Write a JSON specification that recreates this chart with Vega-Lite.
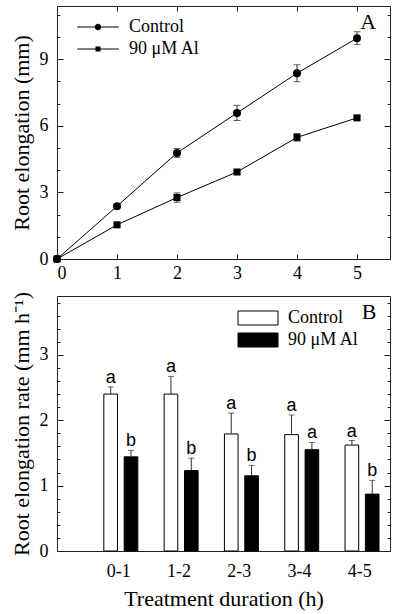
{
  "$schema": "https://vega.github.io/schema/vega-lite/v6.json",
  "padding": {"left": 9, "top": 5, "right": 8, "bottom": 2},
  "config": {
    "font": "Liberation Serif",
    "view": {"stroke": "#222", "strokeWidth": 1},
    "axis": {
      "domain": false, "grid": false, "tickColor": "#222", "tickWidth": 1,
      "labelFont": "Liberation Serif", "labelFontSize": 18, "labelColor": "black",
      "titleFont": "Liberation Serif", "titleFontSize": 22, "titleFontWeight": "normal", "titleColor": "black", "titlePadding": 6
    },
    "legend": {"labelFont": "Liberation Serif", "labelFontSize": 18, "labelColor": "black"}
  },
  "datasets": {
    "growth": [
      {"t": 0, "group": "Control", "mean": 0, "err": 0},
      {"t": 1, "group": "Control", "mean": 2.38, "err": 0.08},
      {"t": 2, "group": "Control", "mean": 4.78, "err": 0.2},
      {"t": 3, "group": "Control", "mean": 6.58, "err": 0.34},
      {"t": 4, "group": "Control", "mean": 8.37, "err": 0.38},
      {"t": 5, "group": "Control", "mean": 9.95, "err": 0.29},
      {"t": 0, "group": "90 μM Al", "mean": 0, "err": 0},
      {"t": 1, "group": "90 μM Al", "mean": 1.54, "err": 0.06},
      {"t": 2, "group": "90 μM Al", "mean": 2.77, "err": 0.21},
      {"t": 3, "group": "90 μM Al", "mean": 3.92, "err": 0.07},
      {"t": 4, "group": "90 μM Al", "mean": 5.48, "err": 0.17},
      {"t": 5, "group": "90 μM Al", "mean": 6.36, "err": 0.07}
    ],
    "rates": [
      {"period": "0-1", "group": "Control", "rate": 2.40, "hi": 2.51, "letter": "a"},
      {"period": "1-2", "group": "Control", "rate": 2.40, "hi": 2.67, "letter": "a"},
      {"period": "2-3", "group": "Control", "rate": 1.79, "hi": 2.11, "letter": "a"},
      {"period": "3-4", "group": "Control", "rate": 1.78, "hi": 2.08, "letter": "a"},
      {"period": "4-5", "group": "Control", "rate": 1.62, "hi": 1.69, "letter": "a"},
      {"period": "0-1", "group": "90 μM Al", "rate": 1.44, "hi": 1.54, "letter": "b"},
      {"period": "1-2", "group": "90 μM Al", "rate": 1.23, "hi": 1.42, "letter": "b"},
      {"period": "2-3", "group": "90 μM Al", "rate": 1.15, "hi": 1.31, "letter": "b"},
      {"period": "3-4", "group": "90 μM Al", "rate": 1.55, "hi": 1.66, "letter": "a"},
      {"period": "4-5", "group": "90 μM Al", "rate": 0.87, "hi": 1.08, "letter": "b"}
    ],
    "panelA": [{"label": "A"}],
    "panelB": [{"label": "B"}]
  },
  "resolve": {
    "scale": {"shape": "independent", "size": "independent", "fill": "independent", "xOffset": "independent"},
    "legend": {"shape": "independent", "fill": "independent", "size": "independent"}
  },
  "vconcat": [
    {
      "width": 333, "height": 253,
      "data": {"name": "growth"},
      "layer": [
        {
          "mark": {"type": "errorbar", "ticks": true, "size": 7, "thickness": 1, "color": "#222"},
          "encoding": {
            "x": {"field": "t", "type": "quantitative", "scale": {"domain": [0, 5.55], "nice": false, "zero": false}, "axis": null},
            "y": {"field": "mean", "type": "quantitative", "scale": {"domain": [0, 11.4], "nice": false}, "axis": null},
            "yError": {"field": "err"}
          }
        },
        {
          "mark": {"type": "line", "color": "black", "strokeWidth": 1},
          "encoding": {
            "x": {"field": "t", "type": "quantitative", "scale": {"domain": [0, 5.55], "nice": false, "zero": false},
                  "axis": {"values": [0, 1, 2, 3, 4, 5], "tickSize": -5, "labelPadding": 10, "title": null}},
            "y": {"field": "mean", "type": "quantitative", "scale": {"domain": [0, 11.4], "nice": false},
                  "axis": {"values": [0, 1, 2, 3, 4, 5, 6, 7, 8, 9, 10, 11], "labelExpr": "datum.value % 3 === 0 ? datum.label : ''",
                           "tickSize": {"condition": {"test": "datum.value % 3 === 0", "value": -6}, "value": -3},
                           "labelPadding": 15, "title": "Root elongation (mm)"}},
            "detail": {"field": "group"}
          }
        },
        {
          "mark": {"type": "point", "filled": true, "color": "black", "opacity": 1},
          "encoding": {
            "x": {"field": "t", "type": "quantitative", "scale": {"domain": [0, 5.55], "nice": false, "zero": false}, "axis": null},
            "y": {"field": "mean", "type": "quantitative", "scale": {"domain": [0, 11.4], "nice": false}, "axis": null},
            "shape": {"field": "group", "type": "nominal", "scale": {"domain": ["Control", "90 μM Al"], "range": ["circle", "square"]}, "legend": null},
            "size": {"field": "group", "type": "nominal", "scale": {"domain": ["Control", "90 μM Al"], "range": [64, 50]}, "legend": null}
          }
        },
        {
          "transform": [{"filter": "false"}],
          "mark": {"type": "point", "filled": true, "color": "black", "size": 25},
          "encoding": {
            "x": {"field": "t", "type": "quantitative", "scale": {"domain": [0, 5.55], "nice": false, "zero": false}, "axis": null},
            "y": {"field": "mean", "type": "quantitative", "scale": {"domain": [0, 11.4], "nice": false}, "axis": null},
            "shape": {"field": "group", "type": "nominal",
                      "scale": {"domain": ["Control", "90 μM Al"],
                                "range": ["M-8.3,-0.18H8.3V0.18H-8.3Z M-1.28,0A1.28,1.28 0 1,1 1.28,0A1.28,1.28 0 1,1 -1.28,0Z", "M-8.3,-0.18H8.3V0.18H-8.3Z M-1,-1H1V1H-1Z"]},
                      "legend": {"orient": "none", "legendX": 32, "legendY": 12, "title": null, "padding": 0, "symbolSize": 25, "labelOffset": 22, "rowPadding": 4,
                                 "labelFont": "Liberation Serif", "labelFontSize": 18,
                                 "symbolOpacity": 1, "symbolFillColor": "black", "symbolStrokeWidth": 0}}
          }
        },
        {
          "data": {"name": "panelA"},
          "mark": {"type": "text", "align": "right", "baseline": "alphabetic", "font": "Liberation Serif", "fontSize": 22, "fontWeight": "normal", "color": "black"},
          "encoding": {
            "x": {"datum": 5.32, "type": "quantitative", "axis": null},
            "y": {"datum": 10.36, "type": "quantitative", "axis": null},
            "text": {"field": "label"}
          }
        },
        {
          "mark": {"type": "point", "opacity": 0},
          "encoding": {
            "x": {"field": "t", "type": "quantitative", "scale": {"domain": [0, 5.55], "nice": false, "zero": false},
                  "axis": {"orient": "top", "values": [0, 1, 2, 3, 4, 5], "tickSize": -5, "labels": false, "title": null}},
            "y": {"field": "mean", "type": "quantitative", "scale": {"domain": [0, 11.4], "nice": false},
                  "axis": {"orient": "right", "values": [0, 1, 2, 3, 4, 5, 6, 7, 8, 9, 10, 11], "labels": false,
                           "tickSize": {"condition": {"test": "datum.value % 3 === 0", "value": -6}, "value": -3}, "title": null}}
          }
        }
      ],
      "resolve": {"axis": {"x": "independent", "y": "independent"}, "scale": {"shape": "independent"}, "legend": {"shape": "independent"}}
    },
    {
      "width": 333, "height": 255,
      "data": {"name": "rates"},
      "layer": [
        {
          "mark": {"type": "bar", "stroke": "black", "strokeWidth": 1},
          "encoding": {
            "x": {"field": "period", "type": "nominal", "scale": {"domain": ["0-1", "1-2", "2-3", "3-4", "4-5"], "paddingInner": 0, "paddingOuter": 0.261, "align": 1},
                  "axis": {"ticks": false, "labelAngle": 0, "labelPadding": 11, "title": "Treatment duration (h)", "titlePadding": 8}},
            "xOffset": {"field": "group", "type": "nominal", "scale": {"domain": ["Control", "90 μM Al"], "paddingInner": 0.33, "paddingOuter": 0.647, "align": 0.583}},
            "y": {"field": "rate", "type": "quantitative", "scale": {"domain": [0, 3.9], "nice": false},
                  "axis": {"values": [0, 0.2, 0.4, 0.6, 0.8, 1, 1.2, 1.4, 1.6, 1.8, 2, 2.2, 2.4, 2.6, 2.8, 3, 3.2, 3.4, 3.6, 3.8],
                           "labelExpr": "datum.value % 1 === 0 ? '' + datum.value : ''", "labelOverlap": false,
                           "tickSize": {"condition": {"test": "datum.value % 1 === 0", "value": -6}, "value": -3},
                           "labelPadding": 15, "title": "Root elongation rate (mm h⁻¹)"}},
            "fill": {"field": "group", "type": "nominal", "scale": {"domain": ["Control", "90 μM Al"], "range": ["white", "black"]},
                     "legend": {"orient": "none", "legendX": 192, "legendY": 13, "title": null, "padding": 0, "symbolSize": 25, "labelOffset": 21, "rowPadding": 4,
                                "labelFont": "Liberation Serif", "labelFontSize": 18,
                                "symbolType": "M-8,-2.8H8V2.8H-8Z", "symbolStrokeColor": "black", "symbolStrokeWidth": 1}}
          }
        },
        {
          "mark": {"type": "rule", "color": "#333", "strokeWidth": 1},
          "encoding": {
            "x": {"field": "period", "type": "nominal", "axis": null},
            "xOffset": {"field": "group", "type": "nominal"},
            "y": {"field": "rate", "type": "quantitative", "axis": null},
            "y2": {"field": "hi"}
          }
        },
        {
          "mark": {"type": "tick", "orient": "horizontal", "size": 6, "thickness": 1, "color": "#333"},
          "encoding": {
            "x": {"field": "period", "type": "nominal", "axis": null},
            "xOffset": {"field": "group", "type": "nominal"},
            "y": {"field": "hi", "type": "quantitative", "axis": null}
          }
        },
        {
          "mark": {"type": "text", "font": "Liberation Sans", "fontSize": 18, "baseline": "alphabetic", "dy": -4, "color": "black"},
          "encoding": {
            "x": {"field": "period", "type": "nominal", "axis": null},
            "xOffset": {"field": "group", "type": "nominal"},
            "y": {"field": "hi", "type": "quantitative", "axis": null},
            "text": {"field": "letter"}
          }
        },
        {
          "data": {"name": "panelB"},
          "mark": {"type": "text", "align": "center", "baseline": "alphabetic", "dx": -3, "font": "Liberation Serif", "fontSize": 22, "fontWeight": "normal", "color": "black"},
          "encoding": {
            "x": {"datum": "4-5", "type": "nominal", "axis": null},
            "xOffset": {"datum": "90 μM Al", "type": "nominal"},
            "y": {"datum": 3.55, "type": "quantitative", "axis": null},
            "text": {"field": "label"}
          }
        },
        {
          "mark": {"type": "point", "opacity": 0},
          "encoding": {
            "x": {"field": "period", "type": "nominal", "axis": null},
            "y": {"field": "rate", "type": "quantitative",
                  "axis": {"orient": "right", "values": [0, 0.2, 0.4, 0.6, 0.8, 1, 1.2, 1.4, 1.6, 1.8, 2, 2.2, 2.4, 2.6, 2.8, 3, 3.2, 3.4, 3.6, 3.8], "labels": false,
                           "tickSize": {"condition": {"test": "datum.value % 1 === 0", "value": -6}, "value": -3}, "title": null}}
          }
        }
      ],
      "resolve": {"axis": {"x": "independent", "y": "independent"}}
    }
  ],
  "spacing": 7
}
